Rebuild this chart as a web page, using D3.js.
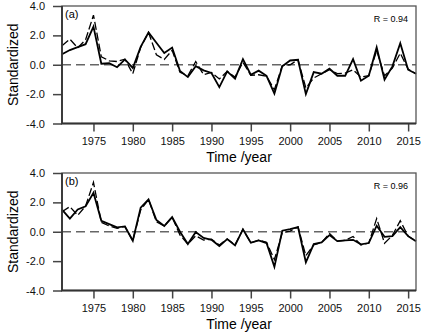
<!DOCTYPE html>
<html>
<head>
<meta charset="utf-8">
<script src="https://cdn.jsdelivr.net/npm/d3@7"></script>
<style>
  body { margin: 0; background: #fff; }
  svg { display: block; font-family: "Liberation Sans", Arial, Helvetica, sans-serif; }
  .tick text { font-size: 11px; fill: #111; }
  .tick line { stroke: #444; stroke-width: 1.5; }
</style>
</head>
<body>
<div id="chart"></div>
<script>
// years on the x axis
var years = [1971, 1972, 1973, 1974, 1975, 1976, 1977, 1978, 1979, 1980,
             1981, 1982, 1983, 1984, 1985, 1986, 1987, 1988, 1989, 1990,
             1991, 1992, 1993, 1994, 1995, 1996, 1997, 1998, 1999, 2000,
             2001, 2002, 2003, 2004, 2005, 2006, 2007, 2008, 2009, 2010,
             2011, 2012, 2013, 2014, 2015, 2016];

// panel (a)
var solidA = [0.72, 1.0, 1.2, 1.4, 2.6, 0.07, 0.1, -0.17, 0.36, -0.22,
              1.22, 2.2, 1.5, 0.8, 1.17, -0.42, -0.84, -0.1, -0.38, -0.56,
              -1.52, -0.45, -0.95, 0.38, -0.68, -0.4, -0.75, -1.97, -0.11, 0.29,
              0.34, -2.0, -0.5, -0.61, -0.27, -0.75, -0.75, 0.38, -1.09, -0.75,
              1.18, -1.02, -0.11, 1.47, -0.34, -0.61];
var dashA = [1.3, 1.74, 1.15, 1.7, 3.38, 0.54, 0.27, 0.22, 0.38, -0.61,
             1.18, 2.2, 0.68, 0.36, 0.98, -0.52, -0.75, 0.22, -0.68, -0.52,
             -0.97, -0.45, -0.84, 0.16, -0.72, -0.68, -0.78, -1.7, -0.05, 0.0,
             0.34, -1.58, -0.9, -0.61, -0.34, -0.6, -0.57, -0.34, -0.84, -0.75,
             0.97, -0.75, -0.23, 0.79, -0.3, -0.61];

// panel (b)
var solidB = [1.5, 0.9, 1.52, 1.73, 2.66, 0.75, 0.52, 0.3, 0.36, -0.61,
              1.64, 2.2, 0.8, 0.39, 1.0, 0.0, -0.84, -0.02, -0.42, -0.55,
              -0.97, -0.5, -0.93, 0.16, -0.75, -0.59, -0.77, -2.39, 0.07, 0.18,
              0.32, -2.08, -0.84, -0.73, -0.23, -0.64, -0.59, -0.55, -0.86, -0.77,
              0.41, -0.35, -0.3, 0.31, -0.3, -0.64];
var dashB = [1.36, 1.71, 1.12, 1.75, 3.36, 0.64, 0.39, 0.23, 0.36, -0.61,
             1.48, 2.2, 0.68, 0.39, 1.0, -0.23, -0.84, -0.27, -0.57, -0.5,
             -0.9, -0.5, -0.88, 0.16, -0.75, -0.57, -0.72, -1.9, -0.07, 0.05,
             0.32, -1.63, -0.9, -0.73, -0.11, -0.64, -0.59, -0.32, -0.9, -0.77,
             0.9, -0.78, -0.25, 0.75, -0.3, -0.64];

var xTicks = [1975, 1980, 1985, 1990, 1995, 2000, 2005, 2010, 2015];
var yTicks = [-4, -2, 0, 2, 4];
var panels = [
  { tag: "(a)", r: "R = 0.94", solid: solidA, dash: dashA, top: 6 },
  { tag: "(b)", r: "R = 0.96", solid: solidB, dash: dashB, top: 173 }
];

var w = 425, h = 334;
var left = 62, right = 416, plotH = 117.5;

var svg = d3.select("#chart").append("svg")
    .attr("width", w)
    .attr("height", h);

var xScale = d3.scaleLinear().domain([1971, 2016]).range([left, right]);

function drawPanel(p)
{
    var yScale = d3.scaleLinear().domain([-4, 4]).range([p.top + plotH, p.top]);
    var g = svg.append("g");

    var line = d3.line()
        .x((d, i) => xScale(years[i]))
        .y((d) => yScale(d));

    // zero reference
    g.append("line")
        .attr("x1", left).attr("x2", right)
        .attr("y1", yScale(0)).attr("y2", yScale(0))
        .attr("stroke", "#666")
        .attr("stroke-width", 1.5)
        .attr("stroke-dasharray", "9,5");

    g.append("path")
        .datum(p.dash)
        .attr("d", line)
        .attr("fill", "none")
        .attr("stroke", "#000")
        .attr("stroke-width", 1.3)
        .attr("stroke-dasharray", "8,3");

    g.append("path")
        .datum(p.solid)
        .attr("d", line)
        .attr("fill", "none")
        .attr("stroke", "#000")
        .attr("stroke-width", 1.8);

    g.append("g")
        .attr("transform", "translate(0," + (p.top + plotH) + ")")
        .call(d3.axisBottom(xScale).tickValues(xTicks).tickSize(8).tickSizeOuter(0).tickPadding(6).tickFormat(d3.format("d")))
        .call((a) => a.select(".domain").remove());

    g.append("g")
        .attr("transform", "translate(" + left + ",0)")
        .call(d3.axisLeft(yScale).tickValues(yTicks).tickSize(9).tickSizeOuter(0).tickPadding(8).tickFormat((d) => d.toFixed(1)))
        .call((a) => a.select(".domain").remove());

    // frame
    g.append("rect")
        .attr("x", left).attr("y", p.top)
        .attr("width", right - left).attr("height", plotH)
        .attr("fill", "none")
        .attr("stroke", "#555")
        .attr("stroke-width", 1.3);
    g.append("path")
        .attr("d", "M" + left + "," + p.top + "V" + (p.top + plotH) + "H" + right)
        .attr("fill", "none")
        .attr("stroke", "#333")
        .attr("stroke-width", 1.8);

    g.append("text")
        .attr("x", left + 3).attr("y", p.top + 12)
        .attr("font-size", 11)
        .text(p.tag);

    g.append("text")
        .attr("x", 408).attr("y", p.top + 16)
        .attr("text-anchor", "end")
        .attr("font-size", 9)
        .text(p.r);

    g.append("text")
        .attr("x", (left + right) / 2).attr("y", p.top + plotH + 38)
        .attr("text-anchor", "middle")
        .attr("font-size", 14)
        .text("Time /year");

    g.append("text")
        .attr("transform", "translate(18," + (p.top + plotH / 2) + ") rotate(-90)")
        .attr("text-anchor", "middle")
        .attr("font-size", 14)
        .text("Standardized");
}

panels.forEach(drawPanel);
</script>
</body>
</html>
